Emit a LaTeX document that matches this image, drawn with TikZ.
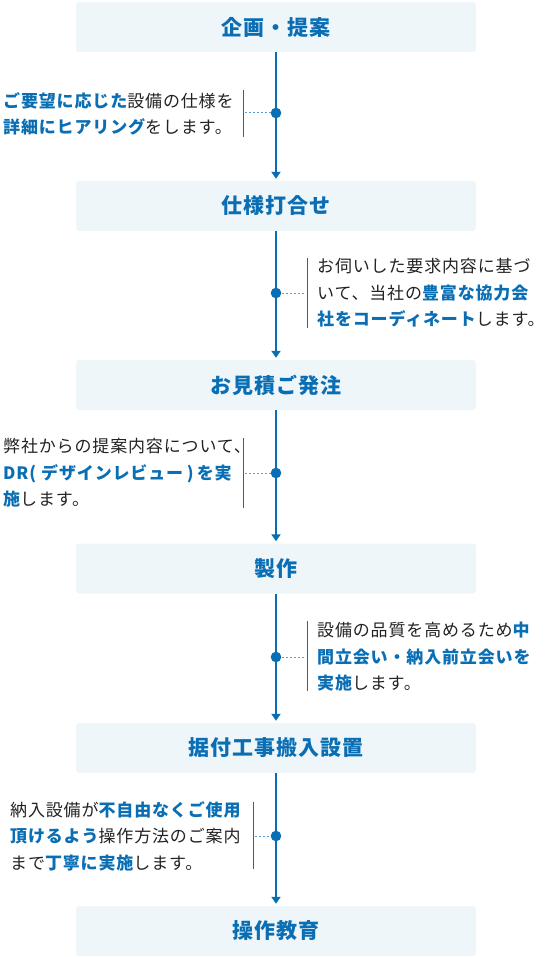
\documentclass[tikz,border=0pt]{standalone}
\usepackage{fontspec}
\setmainfont{Noto Sans CJK JP}[LetterSpace=5]
\usetikzlibrary{arrows.meta}
\definecolor{fblue}{HTML}{0A6EB4}
\definecolor{lblue}{HTML}{5B9FD2}
\definecolor{boxfill}{HTML}{EEF6FA}
\definecolor{ink}{HTML}{222222}
\newcommand{\hl}[1]{{\bfseries\color{fblue}#1}}
\begin{document}
\begin{tikzpicture}[x=1pt,y=-1pt,
  stepbox/.style={fill=boxfill, draw=none, rounded corners=3pt, minimum width=400pt, minimum height=50pt, inner sep=0pt, text=fblue, font=\fontsize{21}{24}\selectfont\bfseries},
  dotc/.style={circle, fill=fblue, minimum size=10.6pt, inner sep=0pt},
  desc/.style={inner sep=0pt, align=left, text=ink, font=\fontsize{17}{26.5}\selectfont},
  flowline/.style={draw=fblue, line width=2pt, -{Triangle[width=9pt,length=7pt]}, shorten >=2pt},
  bar/.style={draw=fblue, line width=0.9pt},
  dotl/.style={draw=lblue, line width=1pt, dash pattern=on 2pt off 2pt}
]
\useasboundingbox (0,0) rectangle (552,957);
% boxes
\node[stepbox] (s1) at (276,27) {企画・提案};
\node[stepbox] (s2) at (276,206) {仕様打合せ};
\node[stepbox] (s3) at (276,385) {お見積ご発注};
\node[stepbox] (s4) at (276,568.5) {製作};
\node[stepbox] (s5) at (276,748) {据付工事搬入設置};
\node[stepbox] (s6) at (276,931) {操作教育};
% flow lines
\draw[flowline] (s1.south) -- (s2.north);
\draw[flowline] (s2.south) -- (s3.north);
\draw[flowline] (s3.south) -- (s4.north);
\draw[flowline] (s4.south) -- (s5.north);
\draw[flowline] (s5.south) -- (s6.north);
% dots
\node[dotc] (d1) at (276,113) {};
\node[dotc] (d2) at (276,293) {};
\node[dotc] (d3) at (276,473) {};
\node[dotc] (d4) at (276,657) {};
\node[dotc] (d5) at (276,836) {};
% texts
\node[desc, anchor=west] (t1) at (3,114) {\hl{ご要望に応じた}設備の仕様を\\\hl{詳細にヒアリング}をします。};
\node[desc, anchor=west] (t2) at (317,293) {お伺いした要求内容に基づ\\いて、当社の\hl{豊富な協力会}\\\hl{社をコーディネート}します。};
\node[desc, anchor=west] (t3) at (3,473) {弊社からの提案内容について、\\\hl{DR(\hspace{0.3em}デザインレビュー\hspace{0.22em})\hspace{0.18em}を実}\\\hl{施}します。};
\node[desc, anchor=west] (t4) at (317,657) {設備の品質を高めるため\hl{中}\\\hl{間立会い・納入前立会いを}\\\hl{実施}します。};
\node[desc, anchor=west] (t5) at (10,836) {納入設備が\hl{不自由なくご使用}\\\hl{頂けるよう}操作方法のご案内\\まで\hl{丁寧に実施}します。};
% bars
\coordinate (b1t) at (243,90);  \coordinate (b1b) at (243,137);
\coordinate (b2t) at (307,258); \coordinate (b2b) at (307,328);
\coordinate (b3t) at (243,438); \coordinate (b3b) at (243,508);
\coordinate (b4t) at (307,621); \coordinate (b4b) at (307,691);
\coordinate (b5t) at (253,802); \coordinate (b5b) at (253,869);
\draw[bar] (b1t) -- (b1b);
\draw[bar] (b2t) -- (b2b);
\draw[bar] (b3t) -- (b3b);
\draw[bar] (b4t) -- (b4b);
\draw[bar] (b5t) -- (b5b);
% dotted connectors
\draw[dotl] (b1t|-d1) ++(2,0) -- (d1.west);
\draw[dotl] (d2.east) -- ([xshift=-2pt]b2t|-d2);
\draw[dotl] (b3t|-d3) ++(2,0) -- (d3.west);
\draw[dotl] (d4.east) -- ([xshift=-2pt]b4t|-d4);
\draw[dotl] (b5t|-d5) ++(2,0) -- (d5.west);
\end{tikzpicture}
\end{document}
